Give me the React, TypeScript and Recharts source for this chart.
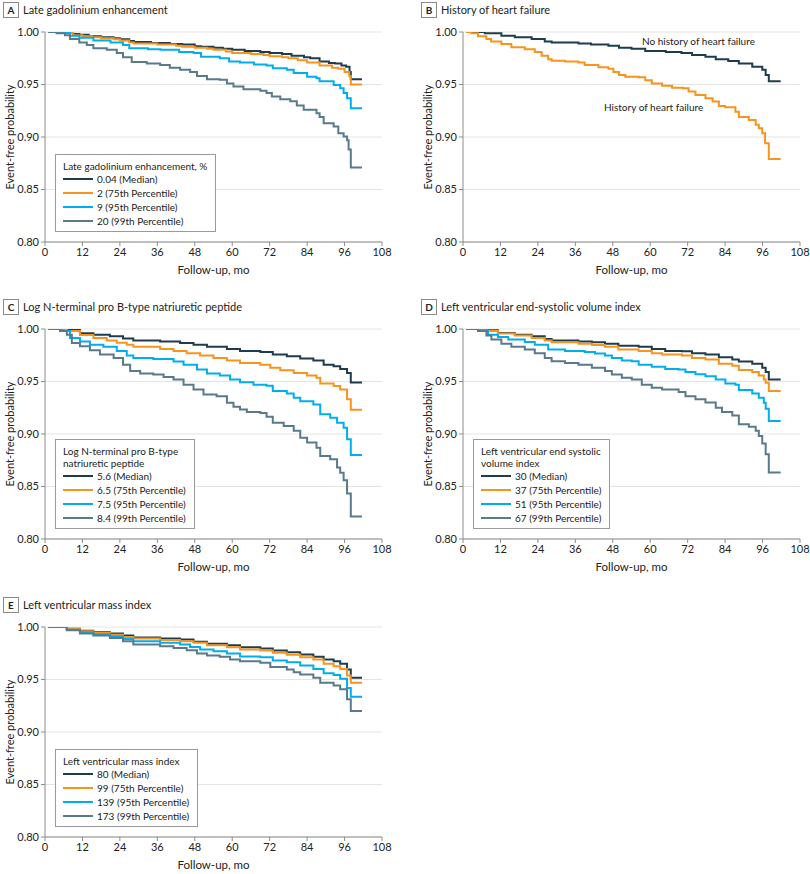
import React from 'react';
import { LineChart, Line, XAxis, YAxis, CartesianGrid, Legend } from 'recharts';

type Pt = [number, number];

const xTicks = [0, 12, 24, 36, 48, 60, 72, 84, 96, 108];
const yTicks = [0.8, 0.85, 0.9, 0.95, 1.0];

// A: late gadolinium enhancement
const lgeLabels = ['0.04 (Median)', '2 (75th Percentile)', '9 (95th Percentile)', '20 (99th Percentile)'];
const lgeMedian: Pt[] = [[1, 1], [5, 0.9995], [9, 0.998], [11, 0.9975], [14, 0.996], [18, 0.995], [22, 0.994], [24, 0.993], [27, 0.9915], [28.5, 0.9905], [34, 0.9895], [40, 0.9885], [44, 0.988], [48, 0.9865], [50, 0.986], [54, 0.985], [57, 0.984], [60, 0.983], [64, 0.982], [69, 0.981], [72, 0.98], [76, 0.979], [79, 0.9775], [83, 0.976], [85, 0.975], [88, 0.972], [91, 0.9705], [93, 0.97], [95, 0.968], [96.5, 0.967], [97.6, 0.962], [98, 0.955], [101.6, 0.955]];
const lgeP75: Pt[] = [[1, 1], [6, 0.999], [9, 0.997], [12, 0.996], [15, 0.995], [18, 0.994], [22, 0.993], [24, 0.992], [27, 0.99], [28.5, 0.989], [36, 0.988], [42, 0.987], [44, 0.986], [48, 0.985], [52, 0.984], [54, 0.983], [58, 0.9815], [60, 0.98], [66, 0.979], [70, 0.978], [72, 0.977], [76, 0.976], [78, 0.975], [81, 0.973], [84, 0.971], [88, 0.968], [92, 0.966], [94, 0.965], [96, 0.962], [97.5, 0.958], [98, 0.95], [101.6, 0.95]];
const lgeP95: Pt[] = [[1, 1], [4.8, 0.999], [8, 0.9965], [11, 0.9946], [15.5, 0.992], [21, 0.99], [25, 0.9877], [27, 0.9845], [33, 0.9835], [37, 0.983], [43, 0.981], [47.6, 0.98], [50, 0.9765], [56, 0.975], [59, 0.972], [62.5, 0.971], [67, 0.969], [71, 0.968], [73, 0.9655], [77.5, 0.964], [79.7, 0.961], [84, 0.9575], [87, 0.956], [88, 0.953], [92.5, 0.9495], [94.6, 0.9465], [95.7, 0.942], [96.8, 0.937], [98, 0.9275], [101.6, 0.9275]];
const lgeP99: Pt[] = [[1, 1], [3.7, 0.9987], [6.4, 0.997], [8, 0.9933], [11, 0.99], [13.4, 0.9877], [15.5, 0.9845], [19.8, 0.983], [23, 0.98], [25, 0.976], [27.8, 0.9715], [32.6, 0.97], [36.9, 0.9686], [40, 0.966], [43.3, 0.964], [46.5, 0.962], [48.7, 0.958], [51.9, 0.955], [56, 0.9545], [58.3, 0.951], [60.4, 0.948], [63.6, 0.9455], [69, 0.944], [71, 0.942], [72.7, 0.9385], [75.4, 0.936], [78.6, 0.934], [80.7, 0.93], [82.9, 0.926], [87, 0.9227], [88, 0.919], [89.3, 0.913], [92.5, 0.91], [94, 0.9036], [95.7, 0.9005], [96.8, 0.897], [97.3, 0.888], [98, 0.871], [101.6, 0.871]];

// B: history of heart failure
const hfLabels = ['No history of heart failure', 'History of heart failure'];
const hfNo: Pt[] = [[1, 1], [7, 0.9987], [12.3, 0.9965], [16.6, 0.995], [22, 0.9933], [26.2, 0.991], [28.4, 0.99], [37, 0.989], [41, 0.988], [46.6, 0.987], [50, 0.985], [54, 0.984], [58.4, 0.982], [65, 0.981], [70, 0.98], [73.4, 0.978], [77.7, 0.9765], [81, 0.974], [85, 0.9725], [88.4, 0.97], [92.7, 0.967], [95.9, 0.964], [97, 0.959], [98, 0.953], [101.8, 0.953]];
const hfYes: Pt[] = [[1, 1], [2.7, 0.9987], [4.8, 0.996], [7.5, 0.9933], [9, 0.991], [12.3, 0.9886], [15.5, 0.9855], [19.8, 0.9835], [23, 0.981], [25.2, 0.9775], [27.3, 0.974], [28.4, 0.9727], [32.7, 0.972], [37, 0.971], [39, 0.9686], [43.4, 0.9664], [46.6, 0.965], [48.2, 0.962], [50, 0.959], [52, 0.9575], [56.3, 0.957], [58.4, 0.954], [60.5, 0.951], [63.8, 0.9487], [67, 0.947], [70.5, 0.9465], [72.3, 0.9433], [74.5, 0.94], [77.7, 0.937], [80, 0.9338], [82, 0.9296], [84, 0.9284], [87.3, 0.924], [88.4, 0.919], [91.6, 0.9163], [93.8, 0.9116], [94.8, 0.9084], [95.9, 0.9036], [96.8, 0.894], [98, 0.879], [101.8, 0.879]];

// C: log NT-proBNP
const bnpLabels = ['5.6 (Median)', '6.5 (75th Percentile)', '7.5 (95th Percentile)', '8.4 (99th Percentile)'];
const bnpMedian: Pt[] = [[1, 1], [7, 0.999], [11.2, 0.996], [15.5, 0.9946], [20.8, 0.993], [25, 0.991], [28.3, 0.989], [36.9, 0.988], [43.3, 0.9867], [47.6, 0.985], [51.9, 0.983], [58.3, 0.981], [62.5, 0.979], [69, 0.978], [73, 0.9756], [77.5, 0.974], [81.8, 0.972], [86, 0.97], [89.3, 0.966], [92.5, 0.9646], [94.6, 0.962], [96.8, 0.958], [98, 0.949], [101.6, 0.949]];
const bnpP75: Pt[] = [[1, 1], [7, 0.998], [11.2, 0.9943], [15.5, 0.9915], [19.8, 0.989], [23, 0.987], [26.2, 0.985], [28.3, 0.983], [36.9, 0.981], [41.2, 0.979], [45.4, 0.977], [49.7, 0.9747], [54, 0.9725], [58.3, 0.97], [62.5, 0.9677], [69, 0.966], [72.2, 0.963], [75.4, 0.9608], [79.7, 0.958], [84, 0.9557], [87, 0.9535], [88.2, 0.948], [92.5, 0.9456], [94.6, 0.9424], [96.8, 0.933], [98, 0.923], [101.6, 0.923]];
const bnpP95: Pt[] = [[1, 1], [6, 0.998], [8, 0.9915], [11.2, 0.988], [14.4, 0.985], [18.7, 0.983], [23, 0.979], [26.2, 0.9747], [28.3, 0.9725], [34.7, 0.9715], [41.2, 0.969], [44.4, 0.966], [48.7, 0.9614], [51.9, 0.9576], [56, 0.9557], [59.3, 0.952], [62.5, 0.9494], [66.8, 0.947], [71, 0.946], [73, 0.941], [77.5, 0.9386], [79.7, 0.9345], [81.8, 0.9313], [86, 0.928], [88.2, 0.9187], [91.4, 0.9155], [93.6, 0.9108], [95.7, 0.906], [96.8, 0.895], [98, 0.88], [101.6, 0.88]];
const bnpP99: Pt[] = [[1, 1], [4.8, 0.998], [7, 0.9946], [8.6, 0.9867], [11.2, 0.9835], [14.4, 0.9797], [17.6, 0.9756], [22, 0.9725], [25, 0.966], [27.3, 0.96], [30.5, 0.9576], [34.7, 0.9567], [38, 0.9544], [41.2, 0.952], [44.4, 0.947], [47.6, 0.9424], [50.8, 0.9377], [55, 0.936], [58.3, 0.9297], [60.4, 0.926], [62.5, 0.9234], [64.7, 0.921], [69, 0.92], [71, 0.9165], [73, 0.9108], [76.5, 0.9076], [79.7, 0.903], [81.8, 0.8965], [84, 0.8918], [87, 0.887], [88.2, 0.879], [91.4, 0.876], [93.6, 0.868], [94.6, 0.863], [95.7, 0.856], [96.8, 0.8434], [98, 0.8215], [101.6, 0.8215]];

// D: LV end-systolic volume index
const esviLabels = ['30 (Median)', '37 (75th Percentile)', '51 (95th Percentile)', '67 (99th Percentile)'];
const esviMedian: Pt[] = [[1, 1], [7, 0.9987], [11.2, 0.9962], [16.6, 0.9946], [22, 0.993], [26.2, 0.9905], [28.4, 0.989], [37, 0.988], [41.3, 0.9873], [45.5, 0.986], [49.8, 0.984], [56.3, 0.983], [60.5, 0.981], [64.8, 0.979], [70.2, 0.9788], [73.4, 0.977], [77.7, 0.9756], [82, 0.973], [86.3, 0.971], [88.4, 0.969], [92.7, 0.967], [95.9, 0.963], [97, 0.959], [98, 0.952], [101.8, 0.952]];
const esviP75: Pt[] = [[1, 1], [7, 0.998], [11.2, 0.9956], [16.6, 0.9937], [22, 0.9915], [26.2, 0.989], [28.4, 0.9873], [37, 0.986], [41.3, 0.9848], [45.5, 0.983], [49.8, 0.9804], [56.3, 0.979], [60.5, 0.977], [63.8, 0.9756], [70.2, 0.9747], [73.4, 0.9725], [77.7, 0.971], [82, 0.967], [86.3, 0.965], [88.4, 0.961], [92.7, 0.959], [94.8, 0.9557], [96.4, 0.952], [97, 0.9487], [98, 0.941], [101.8, 0.941]];
const esviP95: Pt[] = [[1, 1], [4.8, 0.9987], [8, 0.9946], [11.2, 0.9924], [14.5, 0.99], [19.8, 0.9877], [23, 0.985], [27.3, 0.9804], [32.7, 0.979], [39, 0.978], [42.3, 0.9766], [45.5, 0.9747], [47.7, 0.9725], [50.9, 0.97], [54.1, 0.9693], [56.3, 0.966], [60.5, 0.964], [64.8, 0.962], [69.1, 0.9614], [71.3, 0.959], [74.5, 0.957], [77.7, 0.955], [81, 0.952], [84.1, 0.948], [87.3, 0.947], [88.4, 0.9418], [92.7, 0.9386], [94.8, 0.9345], [96.4, 0.9297], [97, 0.924], [98, 0.9123], [101.8, 0.9123]];
const esviP99: Pt[] = [[1, 1], [4.8, 0.998], [7.5, 0.9937], [9.1, 0.99], [12.3, 0.986], [15.5, 0.983], [19.8, 0.9804], [23, 0.977], [26.2, 0.9725], [28.4, 0.9693], [32.7, 0.9677], [37, 0.966], [41.3, 0.963], [45.5, 0.96], [47.7, 0.9567], [50.9, 0.9535], [54.1, 0.952], [57.3, 0.947], [60.5, 0.944], [63.8, 0.9424], [69.1, 0.94], [71.3, 0.936], [74.5, 0.933], [77.7, 0.93], [81, 0.925], [83, 0.921], [86.3, 0.9177], [88.4, 0.9092], [91.6, 0.907], [93.8, 0.903], [94.8, 0.898], [95.9, 0.891], [97, 0.8807], [98, 0.8633], [101.8, 0.8633]];

// E: LV mass index
const lvmiLabels = ['80 (Median)', '99 (75th Percentile)', '139 (95th Percentile)', '173 (99th Percentile)'];
const lvmiMedian: Pt[] = [[1, 1], [7, 0.9984], [11.2, 0.9965], [15.5, 0.995], [20.8, 0.9937], [25, 0.9918], [28.3, 0.99], [36.9, 0.989], [43.3, 0.988], [47.6, 0.986], [51.9, 0.984], [58.3, 0.9826], [62.5, 0.9807], [69, 0.9795], [73, 0.9776], [77.5, 0.976], [81.8, 0.9738], [86, 0.9716], [89.3, 0.969], [92.5, 0.9675], [94.6, 0.965], [96.8, 0.9596], [98, 0.9517], [101.6, 0.9517]];
const lvmiP75: Pt[] = [[1, 1], [7, 0.998], [11.2, 0.996], [15.5, 0.9943], [20.8, 0.9927], [25, 0.9905], [28.3, 0.989], [36.9, 0.9877], [43.3, 0.9864], [47.6, 0.985], [51.9, 0.9826], [58.3, 0.9807], [62.5, 0.9785], [69, 0.9776], [73, 0.9754], [77.5, 0.9735], [81.8, 0.9712], [86, 0.969], [89.3, 0.965], [92.5, 0.9627], [94.6, 0.96], [96.8, 0.9539], [98, 0.947], [101.6, 0.947]];
const lvmiP95: Pt[] = [[1, 1], [7, 0.9975], [11.2, 0.995], [15.5, 0.993], [20.8, 0.9912], [25, 0.9886], [28.3, 0.9864], [36.9, 0.985], [43.3, 0.9833], [46.5, 0.981], [49.7, 0.9785], [54, 0.977], [58.3, 0.9747], [62.5, 0.972], [69, 0.9712], [73, 0.968], [77.5, 0.9665], [81.8, 0.9633], [86, 0.96], [89.3, 0.956], [92.5, 0.9542], [94.6, 0.9507], [96.8, 0.942], [98, 0.9336], [101.6, 0.9336]];
const lvmiP99: Pt[] = [[1, 1], [7, 0.9968], [11.2, 0.9937], [15.5, 0.9918], [20.8, 0.9896], [25, 0.9864], [28.3, 0.9833], [36.9, 0.9817], [41.2, 0.98], [45.4, 0.9779], [48.7, 0.9747], [51.9, 0.9728], [56, 0.9716], [59.3, 0.969], [62.5, 0.9675], [69, 0.9659], [72.2, 0.962], [77.5, 0.9596], [79.7, 0.957], [81.8, 0.9548], [86, 0.9517], [88.2, 0.947], [92.5, 0.9444], [94.6, 0.9406], [96.8, 0.9311], [98, 0.92], [101.6, 0.92]];

const COLORS = ['#1e3c4d', '#f7941d', '#00aeef', '#587a8a'];
const FONT = 'Lato, "Noto Sans", sans-serif';
const AXIS = '#8c8c8c';
const INK = '#222';

interface Curve {
  name: string;
  color: string;
  points: Pt[];
}

interface Note {
  text: string;
  x: number;
  y: number;
}

interface PanelProps {
  left: number;
  top: number;
  letter: string;
  title: string;
  curves: Curve[];
  legendTitle?: string[];
  notes?: Note[];
}

const toCurves = (labels: string[], series: Pt[][], colors: string[]): Curve[] =>
  series.map((points, i) => ({ name: labels[i], color: colors[i], points }));

function LegendBox({ title, curves }: { title: string[]; curves: Curve[] }) {
  return (
    <div style={{ border: '1px solid #9a9a9a', background: '#fff', padding: '5px 8px 3px 7px', display: 'inline-block', color: INK, fontSize: 10 }}>
      {title.map((t) => (
        <div key={t} style={{ lineHeight: '12px', whiteSpace: 'nowrap' }}>{t}</div>
      ))}
      {curves.map((c) => (
        <div key={c.name} style={{ display: 'flex', alignItems: 'center', height: 14, whiteSpace: 'nowrap' }}>
          <span style={{ display: 'inline-block', width: 30, height: 2, background: c.color, marginRight: 4 }} />
          {c.name}
        </div>
      ))}
    </div>
  );
}

function Panel({ left, top, letter, title, curves, legendTitle, notes }: PanelProps) {
  return (
    <div style={{ position: 'absolute', left, top, width: 392, height: 290 }}>
      <div style={{ position: 'absolute', left: 3, top: 2, width: 14, height: 14, border: '1px solid #8a8a8a', fontSize: 10, fontWeight: 700, lineHeight: '14px', textAlign: 'center', color: INK }}>
        {letter}
      </div>
      <div style={{ position: 'absolute', left: 23, top: 1, fontSize: 11, lineHeight: '17px', color: INK }}>{title}</div>
      <LineChart width={392} height={280} margin={{ top: 32, right: 10, bottom: 8, left: 0 }}>
        <CartesianGrid vertical={false} stroke="#e4e4e4" />
        <XAxis
          type="number"
          dataKey="t"
          domain={[0, 108]}
          ticks={xTicks}
          height={30}
          tickSize={4}
          tickMargin={2}
          axisLine={{ stroke: AXIS }}
          tickLine={{ stroke: AXIS }}
          tick={{ fill: INK, fontSize: 11 }}
          label={{ value: 'Follow-up, mo', position: 'insideBottom', offset: -2, fill: INK, fontSize: 11.5 }}
        />
        <YAxis
          type="number"
          domain={[0.8, 1]}
          ticks={yTicks}
          width={45}
          tickSize={4}
          tickMargin={2}
          allowDataOverflow
          tickFormatter={(v: number) => v.toFixed(2)}
          axisLine={{ stroke: AXIS }}
          tickLine={{ stroke: AXIS }}
          tick={{ fill: INK, fontSize: 11 }}
          label={{ value: 'Event-free probability', angle: -90, position: 'insideLeft', offset: 10, fill: INK, fontSize: 11, style: { textAnchor: 'middle' } }}
        />
        {curves.map((c) => (
          <Line
            key={c.name}
            name={c.name}
            data={c.points.map(([t, s]) => ({ t, s }))}
            dataKey="s"
            type="stepAfter"
            stroke={c.color}
            strokeWidth={2}
            dot={false}
            activeDot={false}
            isAnimationActive={false}
          />
        ))}
        {legendTitle && (
          <Legend
            verticalAlign="middle"
            align="center"
            layout="horizontal"
            wrapperStyle={{ left: 55, bottom: 48, width: 'auto', height: 'auto' }}
            content={() => <LegendBox title={legendTitle} curves={curves} />}
          />
        )}
      </LineChart>
      {(notes || []).map((n) => (
        <div key={n.text} style={{ position: 'absolute', left: n.x, top: n.y, fontSize: 10, color: INK, whiteSpace: 'nowrap' }}>
          {n.text}
        </div>
      ))}
    </div>
  );
}

export default function App() {
  return (
    <div style={{ position: 'absolute', left: 0, top: 0, width: 810, height: 874, background: '#fff', overflow: 'hidden', fontFamily: FONT }}>
      <Panel
        left={0}
        top={0}
        letter="A"
        title="Late gadolinium enhancement"
        curves={toCurves(lgeLabels, [lgeMedian, lgeP75, lgeP95, lgeP99], COLORS)}
        legendTitle={['Late gadolinium enhancement, %']}
      />
      <Panel
        left={418}
        top={0}
        letter="B"
        title="History of heart failure"
        curves={toCurves(hfLabels, [hfNo, hfYes], COLORS)}
        notes={[
          { text: hfLabels[0], x: 224, y: 35 },
          { text: hfLabels[1], x: 186, y: 101 },
        ]}
      />
      <Panel
        left={0}
        top={297}
        letter="C"
        title="Log N-terminal pro B-type natriuretic peptide"
        curves={toCurves(bnpLabels, [bnpMedian, bnpP75, bnpP95, bnpP99], COLORS)}
        legendTitle={['Log N-terminal pro B-type', 'natriuretic peptide']}
      />
      <Panel
        left={418}
        top={297}
        letter="D"
        title="Left ventricular end-systolic volume index"
        curves={toCurves(esviLabels, [esviMedian, esviP75, esviP95, esviP99], COLORS)}
        legendTitle={['Left ventricular end systolic', 'volume index']}
      />
      <Panel
        left={0}
        top={595}
        letter="E"
        title="Left ventricular mass index"
        curves={toCurves(lvmiLabels, [lvmiMedian, lvmiP75, lvmiP95, lvmiP99], COLORS)}
        legendTitle={['Left ventricular mass index']}
      />
    </div>
  );
}
